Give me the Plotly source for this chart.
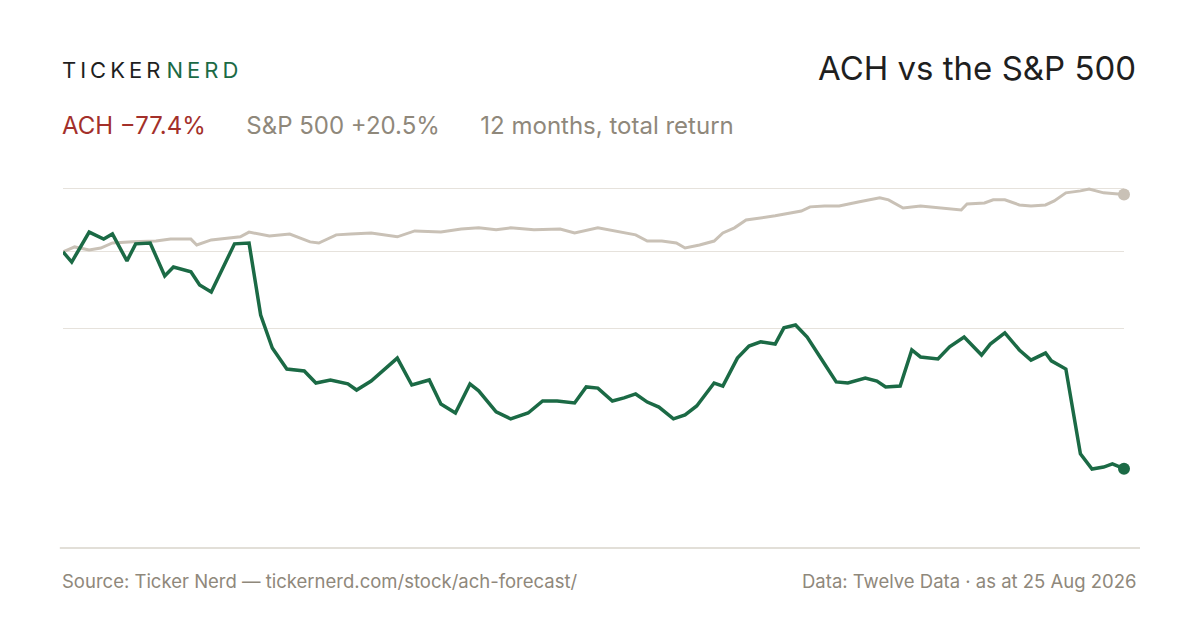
import plotly.graph_objects as go

# (day offset, total return %)
ACH = [(0, 0), (3, -3.6), (9, 7.1), (14, 4.6), (17, 6.4), (22, -3.2), (25, 2.9), (30, 3.2),
       (35, -8.6), (38, -5.4), (44, -7.1), (47, -11.8), (51, -14.3), (59, 2.9), (64, 3.2),
       (68, -22.5), (72, -34.3), (77, -41.8), (83, -42.5), (87, -46.8), (92, -45.7), (98, -47.1),
       (101, -49.3), (106, -46.1), (115, -37.9), (120, -47.5), (126, -45.7), (130, -54.3),
       (135, -57.5), (140, -47.1), (143, -49.6), (149, -57.1), (154, -59.6), (160, -57.5),
       (165, -53.2), (170, -53.2), (176, -53.9), (180, -48.2), (184, -48.6), (189, -53.2),
       (193, -52.1), (197, -50.7), (201, -53.6), (205, -55.4), (210, -59.6), (214, -58.2),
       (218, -55.0), (224, -46.8), (227, -47.9), (232, -37.9), (236, -33.6), (240, -32.1),
       (245, -32.9), (248, -27.1), (252, -26.1), (256, -30.4), (262, -40.0), (266, -46.4),
       (270, -46.8), (276, -45.0), (280, -46.1), (283, -48.2), (288, -47.9), (292, -35.0),
       (295, -37.5), (301, -38.2), (305, -33.9), (310, -30.4), (316, -36.8), (319, -32.9),
       (324, -28.9), (329, -35.0), (333, -38.6), (338, -36.1), (340, -38.9), (345, -41.8),
       (350, -72.1), (354, -77.5), (358, -76.8), (361, -75.7), (365, -77.4)]
SPX = [(0, 0), (4, 1.8), (9, 0.7), (13, 1.4), (17, 3.2), (22, 3.6), (24, 3.6), (32, 3.9),
       (37, 4.6), (44, 4.6), (46, 2.5), (51, 4.3), (57, 5.0), (61, 5.4), (64, 7.1), (71, 5.7),
       (78, 6.4), (85, 3.6), (88, 3.2), (94, 6.1), (99, 6.4), (106, 6.8), (115, 5.4), (121, 7.5),
       (130, 7.1), (137, 8.2), (143, 8.6), (149, 7.9), (154, 8.6), (162, 7.9), (171, 8.2),
       (176, 6.8), (184, 8.6), (192, 7.1), (197, 6.1), (201, 3.9), (206, 3.9), (211, 3.2),
       (214, 1.4), (219, 2.5), (224, 3.9), (227, 6.8), (231, 8.6), (235, 11.4), (240, 12.1),
       (245, 12.9), (254, 14.6), (257, 16.1), (262, 16.4), (267, 16.4), (274, 17.9), (281, 19.3),
       (284, 18.6), (289, 15.7), (295, 16.4), (303, 15.7), (309, 15.0), (311, 17.1), (317, 17.5),
       (320, 18.6), (324, 18.6), (329, 16.8), (333, 16.4), (338, 16.8), (341, 18.2), (345, 21.1),
       (350, 21.8), (353, 22.5), (358, 21.1), (365, 20.5)]
GRID = [22.5, 0, -27.5]

GREEN = "#1b6a45"
SAND = "#c9c1b6"
MUTED = "#8f887b"
FONT = "Inter, Roboto, sans-serif"

fig = go.Figure()
for series, color in [(SPX, SAND), (ACH, GREEN)]:
    xs, ys = zip(*series)
    fig.add_trace(go.Scatter(x=xs, y=ys, mode="lines", line=dict(color=color, width=3.5 if color == GREEN else 3),
                             hoverinfo="skip", cliponaxis=False))
    fig.add_trace(go.Scatter(x=[xs[-1]], y=[ys[-1]], mode="markers", cliponaxis=False,
                             marker=dict(color=color, size=12), hoverinfo="skip"))

fig.add_shape(type="line", xref="paper", yref="paper", x0=-0.003, x1=1.0151, y0=0, y1=0,
              line=dict(color="#d9d4cb", width=1.5))

sp = "\u2009"
logo = sp.join("TICKER") + "&nbsp;" + "<span style='color:%s'>%s</span>" % (GREEN, sp.join("NERD"))
ann = [
    dict(x=60, y=70, text=logo, size=22, color="#1f1f1f", anchor="left"),
    dict(x=1138, y=68, text="ACH vs the S&amp;P 500", size=33, color="#1f1f1f", anchor="right"),
    dict(x=60, y=125, text="<span style='color:#a3302a'>ACH −77.4%</span>      S&amp;P 500 +20.5%      12 months, total return",
         size=24, color=MUTED, anchor="left"),
    dict(x=60, y=581, text="Source: Ticker Nerd — tickernerd.com/stock/ach-forecast/", size=18.5, color=MUTED, anchor="left"),
    dict(x=1138, y=581, text="Data: Twelve Data · as at 25 Aug 2026", size=18.5, color=MUTED, anchor="right"),
]
for a in ann:
    fig.add_annotation(xref="paper", yref="paper", x=(a["x"] - 63) / 1061, y=(548 - a["y"]) / 398,
                       text=a["text"], showarrow=False, xanchor=a["anchor"], yanchor="middle",
                       font=dict(family=FONT, size=a["size"], color=a["color"]))

fig.update_layout(
    width=1200, height=630, showlegend=False,
    paper_bgcolor="white", plot_bgcolor="white",
    margin=dict(l=55, r=84, t=142, b=90),
    xaxis=dict(range=[0, 365], visible=False),
    yaxis=dict(range=[-105.7, 36.4], tickvals=GRID, showticklabels=False, zeroline=False,
               gridcolor="#e6e2dc", gridwidth=1),
)
fig.write_html("out.html")
